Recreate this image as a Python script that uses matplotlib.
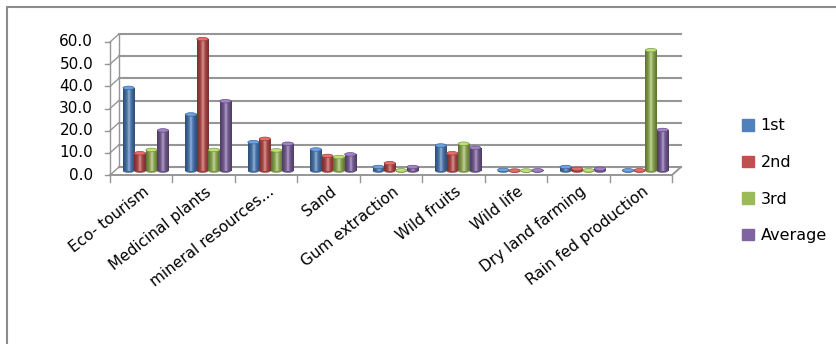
import numpy as np
import matplotlib
matplotlib.use("Agg")
import matplotlib.pyplot as plt
import matplotlib.transforms as mtransforms
from matplotlib.patches import Ellipse, Rectangle

categories = ["Eco- tourism", "Medicinal plants", "mineral resources...", "Sand",
              "Gum extraction", "Wild fruits", "Wild life", "Dry land farming",
              "Rain fed production"]
series = ["1st", "2nd", "3rd", "Average"]
first = [37.5, 25.5, 13.0, 9.7, 1.8, 11.5, 0.5, 1.8, 0.3]
second = [8.0, 59.5, 14.5, 6.8, 3.5, 8.0, 0.2, 1.0, 0.3]
third = [9.5, 9.5, 9.3, 6.3, 0.3, 12.3, 0.2, 0.3, 54.5]
average = [18.3, 31.5, 12.3, 7.5, 1.8, 10.5, 0.3, 1.0, 18.5]
yticks = [0, 10, 20, 30, 40, 50, 60]

colors = ["#4F81BD", "#C0504D", "#9BBB59", "#8064A2"]
plt.rcParams['font.family'] = ['DejaVu Sans']

W, H = 836, 344
fig = plt.figure(figsize=(W / 100, H / 100), dpi=100)

# frame around the chart (only top and left edges are inside the picture)
fig.add_artist(Rectangle((7 / W, -0.1), 2, 1.1 - 7 / H, transform=fig.transFigure,
                         fill=False, edgecolor="#8c8c8c", linewidth=1.5))

# front plane of the 3D box
x0, y0, x1, y1 = 110, 175, 672, 42
ax = fig.add_axes([x0 / W, 1 - y0 / H, (x1 - x0) / W, (y0 - y1) / H])
ax.set_xlim(0, len(categories))
ax.set_ylim(0, 60)
ax.axis("off")

dx, dy = 9, 8  # depth offset of back wall, pixels
back = mtransforms.offset_copy(ax.transData, fig=fig, x=dx, y=dy, units="dots")
mid = mtransforms.offset_copy(ax.transData, fig=fig, x=dx / 2, y=dy / 2, units="dots")
n = len(categories)
gcol = "#969696"

# back wall gridlines + side wall diagonals
for v in yticks:
    ax.plot([0, n], [v, v], color=gcol, lw=1.5, transform=back, clip_on=False)
    p0 = ax.transData.transform((0, v))
    ax.plot([p0[0], p0[0] + dx], [p0[1], p0[1] + dy], color=gcol, lw=1.0,
            transform=None, clip_on=False)
    ax.plot([p0[0] - 5, p0[0]], [p0[1], p0[1]], color=gcol, lw=1.0,
            transform=None, clip_on=False)
    ax.text(-0.27, v, f"{v:.1f}", ha="right", va="center", fontsize=11,
            transform=ax.transData, clip_on=False)
ax.plot([0, 0], [0, 60], color=gcol, lw=1.0, clip_on=False)
ax.plot([0, 0], [0, 60], color=gcol, lw=1.0, transform=back, clip_on=False)

# floor
ax.plot([0, n], [0, 0], color=gcol, lw=1.4, clip_on=False)
pr = ax.transData.transform((n, 0))
ax.plot([pr[0], pr[0] + dx], [pr[1], pr[1] + dy], color=gcol, lw=1.4,
        transform=None, clip_on=False)
for i in range(n + 1):
    p = ax.transData.transform((i, 0))
    ax.plot([p[0], p[0]], [p[1], p[1] - 7], color=gcol, lw=1.0,
            transform=None, clip_on=False)

# cylinder bars
data = [first, second, third, average]
bw = 0.18
xs = np.arange(n) + 0.5
grad = np.concatenate([np.linspace(0.0, 1.0, 30), np.linspace(1.0, 0.0, 30)[1:]])
for k, (vals, c) in enumerate(zip(data, colors)):
    rgb = np.array(matplotlib.colors.to_rgb(c))
    shades = np.array([rgb * (0.6 + 0.4 * g) + (1 - rgb) * 0.45 * g ** 5
                       for g in np.linspace(0, 1, 60)])
    prof = np.array([shades[int(round(g * 59))] for g in grad])
    img = prof[np.newaxis, :, :]
    bars = ax.bar(xs + (k - 1.5) * bw * 1.02, vals, width=bw, color=c, zorder=3)
    for rect in bars:
        rect.set_transform(mid)
        rect.set_clip_on(False)
        bx, bwid, bh = rect.get_x(), rect.get_width(), rect.get_height()
        im = ax.imshow(img, extent=[bx, bx + bwid, 0, bh], aspect="auto",
                       interpolation="bilinear", zorder=3.5, transform=mid)
        im.set_clip_path(rect)
        top = Ellipse((bx + bwid / 2, bh), bwid, 1.6, transform=mid,
                      facecolor=tuple(np.clip(rgb * 1.1 + 0.08, 0, 1)),
                      edgecolor=tuple(rgb * 0.8), lw=0.5, zorder=4, clip_on=False)
        ax.add_patch(top)
        bot = Ellipse((bx + bwid / 2, 0), bwid, 1.6, transform=mid,
                      facecolor=tuple(rgb * 0.8), edgecolor="none", zorder=2.9,
                      clip_on=False)
        ax.add_patch(bot)
ax.set_xlim(0, n)
ax.set_ylim(0, 60)

# category labels
lab = mtransforms.offset_copy(ax.transData, fig=fig, x=6, y=-15, units="dots")
for x, name in zip(xs, categories):
    ax.text(x, 0, name, rotation=38, rotation_mode="anchor", ha="right", va="center",
            fontsize=11, transform=lab, clip_on=False)

# legend
handles = [Rectangle((0, 0), 1, 1, color=c) for c in colors]
fig.legend(handles, series, loc="upper left", bbox_to_anchor=(728 / W, 1 - 104 / H),
           frameon=False, fontsize=11.5, handlelength=0.75, handleheight=0.75,
           handletextpad=0.4, labelspacing=1.35)

fig.savefig("out.png", dpi=100)
